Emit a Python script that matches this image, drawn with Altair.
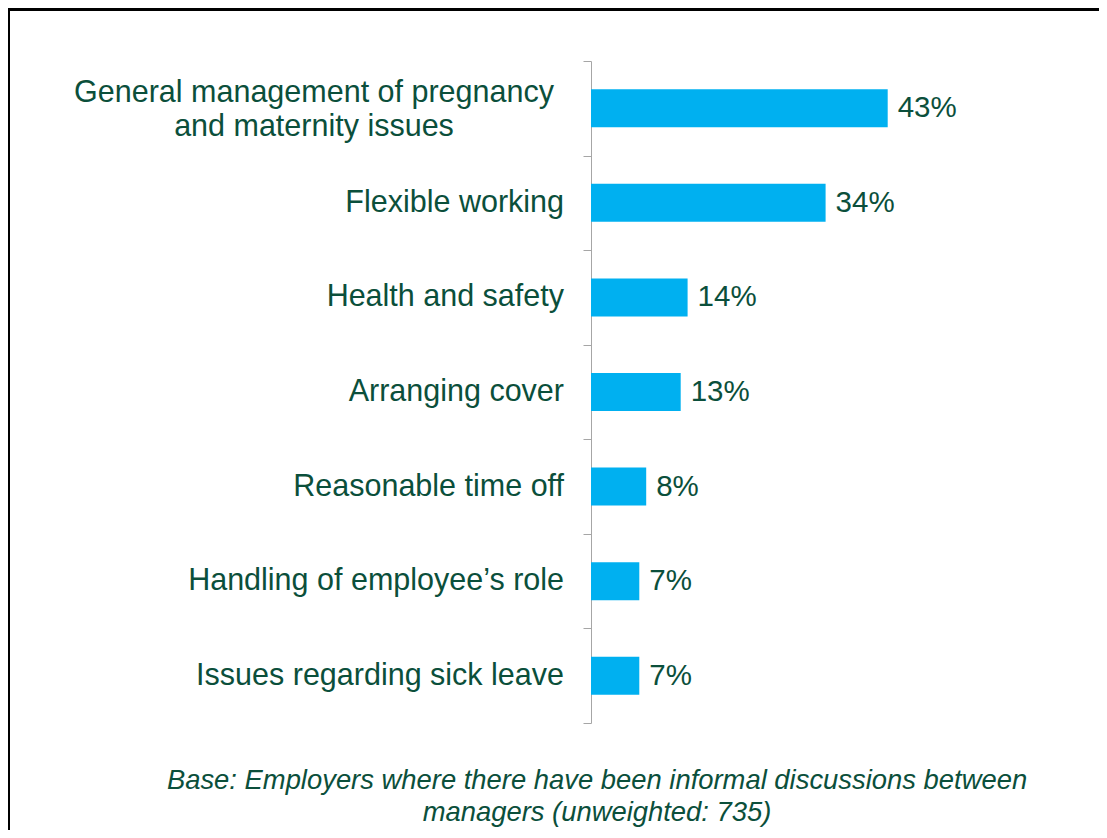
import altair as alt
import pandas as pd

categories = [
    "General management of pregnancy and maternity issues",
    "Flexible working",
    "Health and safety",
    "Arranging cover",
    "Reasonable time off",
    "Handling of employee’s role",
    "Issues regarding sick leave",
]
display_labels = [
    "General management of pregnancy\nand maternity issues",
    "Flexible working",
    "Health and safety",
    "Arranging cover\u00a0",
    "Reasonable time off\u00a0",
    "Handling of employee’s role",
    "Issues regarding sick leave",
]
values = [43, 34, 14, 13, 8, 7, 7]
value_labels = ["43%", "34%", "14%", "13%", "8%", "7%", "7%"]
footnote = "Base: Employers where there have been informal discussions between\nmanagers (unweighted: 735)"

GREEN = "#0B4F3B"
CYAN = "#00B0F0"
GREY = "#A6A6A6"
FONT = "Liberation Sans"

df = pd.DataFrame({
    "category": categories,
    "label": display_labels,
    "value": values,
    "vlabel": value_labels,
})

y_enc = alt.Y(
    "category:N",
    sort=categories,
    scale=alt.Scale(paddingInner=0, paddingOuter=0),
    axis=alt.Axis(
        title=None, labels=False, domainColor=GREY, tickColor=GREY,
        tickSize=8, tickBand="extent", domainWidth=1, tickWidth=1,
    ),
)
x_enc = alt.X("value:Q", scale=alt.Scale(domain=[0, 50]), axis=None)

base = alt.Chart(df)

bars = base.mark_bar(color=CYAN, size=38).encode(x=x_enc, y=y_enc)

vals = base.mark_text(
    align="left", baseline="middle", dx=10, font=FONT, fontSize=29.5, color=GREEN
).encode(x=x_enc, y=y_enc, text="vlabel:N")

cats = base.transform_filter(alt.datum.category != categories[0]).mark_text(
    align="right", baseline="middle", font=FONT, fontSize=30.5, color=GREEN
).encode(x=alt.value(-27), y=y_enc, text="label:N")

wrapped = base.transform_filter(alt.datum.category == categories[0]).mark_text(
    align="center", baseline="middle", font=FONT, fontSize=30.5, color=GREEN,
    lineBreak="\n", lineHeight=34, dy=-15,
).encode(x=alt.value(-277), y=y_enc, text="label:N")

note = alt.Chart(pd.DataFrame({"note": [footnote]})).mark_text(
    align="center", baseline="middle", font=FONT, fontSize=27.4, fontStyle="italic",
    color=GREEN, lineBreak="\n", lineHeight=32,
).encode(x=alt.value(6), y=alt.value(720), text="note:N")

frame = alt.Chart(pd.DataFrame({"a": [0]}))
top_line = frame.mark_rule(color="black", strokeWidth=3).encode(
    x=alt.value(-590), x2=alt.value(600), y=alt.value(-51.5)
)
left_line = frame.mark_rule(color="black", strokeWidth=3).encode(
    x=alt.value(-582.5), y=alt.value(-60), y2=alt.value(900)
)

chart = alt.layer(top_line, left_line, bars, vals, cats, wrapped, note).properties(
    width=345,
    height=662,
    autosize=alt.AutoSizeParams(type="none"),
    padding={"left": 583, "top": 53, "right": 163, "bottom": 107},
).configure_view(stroke=None)

chart.save("out.html", embed_options={"renderer": "svg", "actions": False})
